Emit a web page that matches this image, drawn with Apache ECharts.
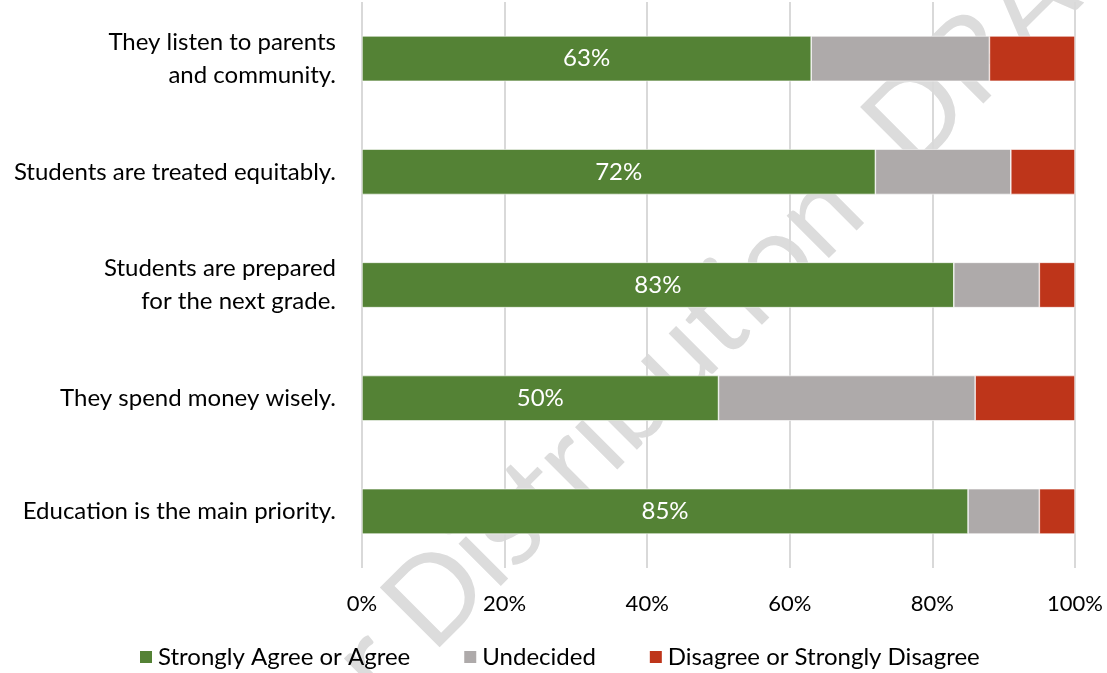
<!DOCTYPE html>
<html>
<head>
<meta charset="utf-8">
<script src="https://cdn.jsdelivr.net/npm/echarts@6/dist/echarts.min.js"></script>
<style>
  html, body { margin: 0; padding: 0; background: #fff; }
  #chart { width: 1107px; height: 673px; }
</style>
</head>
<body>
<div id="chart"></div>
<script>
// statements, top to bottom
const categories = [
  'They listen to parents\nand community.',
  'Students are treated equitably.',
  'Students are prepared\nfor the next grade.',
  'They spend money wisely.',
  'Education is the main priority.'
]
const agree = [63, 72, 83, 50, 85]
const undecided = [25, 19, 12, 36, 10]
const disagree = [12, 9, 5, 14, 5]
const xTicks = [0, 20, 40, 60, 80, 100]

const FONT = 'Lato, "Open Sans", sans-serif'

const chart = echarts.init(document.getElementById('chart'))

const barStyle = (color) => ({
  color: color,
  borderColor: '#ffffff',
  borderWidth: 0.6
})

// faint diagonal watermark behind the bars
const mark = (text, align) => ({
  type: 'text',
  z: -10,
  x: 405,
  y: 628,
  rotation: Math.PI / 4,
  style: {
    text: text,
    fontSize: 118,
    fontFamily: FONT,
    fill: '#dcdcdc',
    textAlign: align,
    textVerticalAlign: 'middle'
  }
})

chart.setOption({
  animation: false,
  textStyle: { fontFamily: FONT },
  grid: { left: 362, right: 32, top: 2, bottom: 105 },
  graphic: [mark('Distribution  DRAFT', 'left'), mark('Not for ', 'right')],
  legend: {
    left: 138,
    top: 645,
    padding: 0,
    itemWidth: 14,
    itemHeight: 14,
    itemGap: 52,
    icon: 'rect',
    textStyle: { fontSize: 24, color: '#000', fontFamily: FONT },
    data: ['Strongly Agree or Agree', 'Undecided', 'Disagree or Strongly Disagree']
  },
  xAxis: {
    type: 'value',
    min: xTicks[0],
    max: xTicks[xTicks.length - 1],
    interval: 20,
    axisLine: { show: false },
    axisTick: { show: false },
    axisLabel: {
      formatter: '{value}%',
      fontSize: 22,
      color: '#000',
      margin: 25
    },
    splitLine: { lineStyle: { color: '#d9d9d9', width: 2 } }
  },
  yAxis: {
    type: 'category',
    inverse: true,
    data: categories,
    axisLine: { show: false },
    axisTick: { show: false },
    axisLabel: {
      fontSize: 24,
      lineHeight: 33,
      color: '#000',
      margin: 26,
      align: 'right'
    }
  },
  series: [
    {
      name: 'Strongly Agree or Agree',
      type: 'bar',
      stack: 'total',
      barWidth: '40%',
      data: agree,
      itemStyle: barStyle('#548235'),
      label: {
        show: true,
        position: 'inside',
        formatter: '{c}%',
        color: '#fff',
        fontSize: 24,
        fontFamily: FONT
      }
    },
    {
      name: 'Undecided',
      type: 'bar',
      stack: 'total',
      data: undecided,
      itemStyle: barStyle('#aeaaaa')
    },
    {
      name: 'Disagree or Strongly Disagree',
      type: 'bar',
      stack: 'total',
      data: disagree,
      itemStyle: barStyle('#be351a')
    }
  ]
})
</script>
</body>
</html>
